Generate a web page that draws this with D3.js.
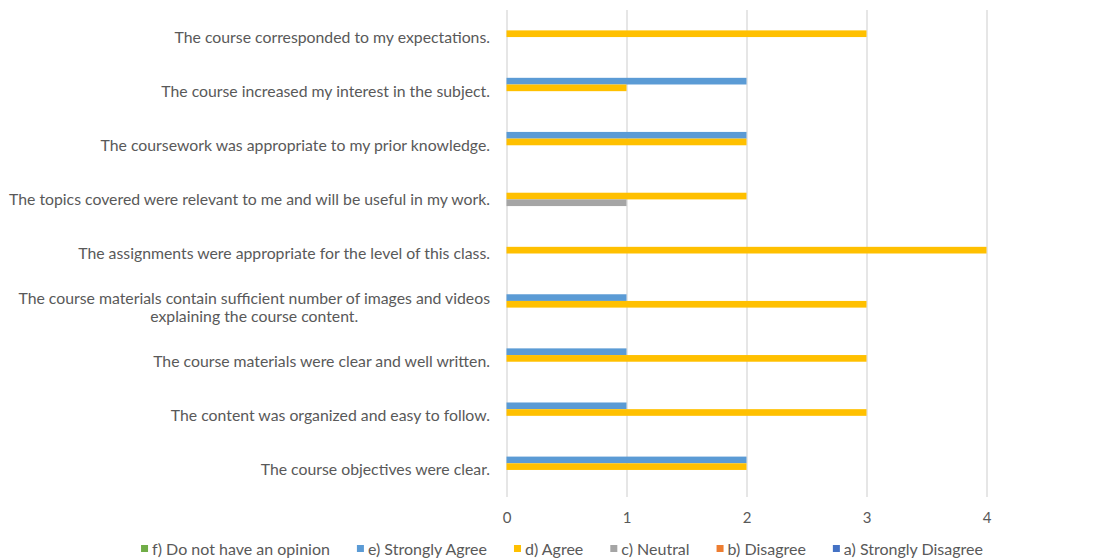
<!DOCTYPE html>
<html>
<head>
<meta charset="utf-8">
<script src="https://cdn.jsdelivr.net/npm/d3@7"></script>
<style>
  body { margin: 0; background: #fff; }
  text { font-family: Lato, 'Noto Sans', sans-serif; }
</style>
</head>
<body>
<svg id="chart" width="1103" height="559"></svg>
<script>
// questions, top to bottom
var questions = [
  "The course corresponded to my expectations.",
  "The course increased my interest in the subject.",
  "The coursework was appropriate to my prior knowledge.",
  "The topics covered were relevant to me and will be useful in my work.",
  "The assignments were appropriate for the level of this class.",
  "The course materials contain sufficient number of images and videos\nexplaining the course content.",
  "The course materials were clear and well written.",
  "The content was organized and easy to follow.",
  "The course objectives were clear."
];

// series in legend order (also top to bottom inside each group)
var seriesNames = ["f) Do not have an opinion", "e) Strongly Agree", "d) Agree", "c) Neutral", "b) Disagree", "a) Strongly Disagree"];
var seriesColors = ["#70AD47", "#5B9BD5", "#FFC000", "#A5A5A5", "#ED7D31", "#4472C4"];

// counts per question, same order as questions
var noOpinion       = [0, 0, 0, 0, 0, 0, 0, 0, 0];
var stronglyAgree   = [0, 2, 2, 0, 0, 1, 1, 1, 2];
var agree           = [3, 1, 2, 2, 4, 3, 3, 3, 2];
var neutral         = [0, 0, 0, 1, 0, 0, 0, 0, 0];
var disagree        = [0, 0, 0, 0, 0, 0, 0, 0, 0];
var stronglyDisagree= [0, 0, 0, 0, 0, 0, 0, 0, 0];

var seriesValues = [noOpinion, stronglyAgree, agree, neutral, disagree, stronglyDisagree];
var xTicks = [0, 1, 2, 3, 4, 5];

var svg = d3.select('#chart');
var plotTop = 10, plotBottom = 497;
var textColor = '#595959';

var x = d3.scaleLinear()
  .domain([0, 5])
  .range([506.5, 1106.5]);

var y = d3.scaleBand()
  .domain(questions)
  .range([plotTop, plotBottom])
  .paddingInner(0.26)
  .paddingOuter(0.13);

var ySeries = d3.scaleBand()
  .domain(seriesNames)
  .range([0, y.bandwidth()]);

var color = d3.scaleOrdinal()
  .domain(seriesNames)
  .range(seriesColors);

//gridlines + tick labels
var xAxis = d3.axisBottom(x)
  .tickValues(xTicks)
  .tickSize(-(plotBottom - plotTop))
  .tickPadding(15)
  .tickFormat(d3.format('d'));

var axisG = svg.append('g')
  .attr('transform', 'translate(0,' + plotBottom + ')')
  .call(xAxis);
axisG.select('.domain').remove();
axisG.selectAll('.tick line')
  .attr('stroke', '#D9D9D9')
  .attr('stroke-width', 1.3);
axisG.selectAll('.tick text')
  .attr('fill', textColor)
  .attr('font-size', 15)
  .style('font-family', 'Lato, sans-serif');

//bars
var rows = [];
questions.forEach(function(q, qi) {
  seriesNames.forEach(function(s, si) {
    rows.push({question: q, series: s, value: seriesValues[si][qi]});
  });
});

svg.append('g').selectAll('rect')
  .data(rows.filter(function(d) { return d.value > 0; }))
  .enter()
  .append('rect')
  .attr('x', x(0))
  .attr('y', function(d) { return y(d.question) + ySeries(d.series); })
  .attr('width', function(d) { return x(d.value) - x(0); })
  .attr('height', ySeries.bandwidth())
  .attr('fill', function(d) { return color(d.series); });

//category labels
var labels = svg.append('g').selectAll('text')
  .data(questions)
  .enter()
  .append('text')
  .attr('text-anchor', 'middle')
  .attr('fill', textColor)
  .attr('font-size', 15.8)
  .each(function(d) {
    var lines = d.split('\n');
    var t = d3.select(this);
    var cy = y(d) + y.bandwidth() / 2;
    var lineH = 18;
    lines.forEach(function(line, i) {
      t.append('tspan')
        .attr('y', cy + 5.5 + (i - (lines.length - 1) / 2) * lineH)
        .text(line);
    });
  });

// right align each block on x=490, centering lines within the block
labels.each(function() {
  var t = d3.select(this);
  var w = 0;
  t.selectAll('tspan').each(function() { w = Math.max(w, this.getComputedTextLength()); });
  t.selectAll('tspan').attr('x', 490 - w / 2);
});

//legend
var legend = svg.append('g');
var legendY = 549;
var cursor = 0;
seriesNames.forEach(function(s) {
  var item = legend.append('g').attr('transform', 'translate(' + cursor + ',0)');
  item.append('rect')
    .attr('x', 0)
    .attr('y', legendY - 4)
    .attr('width', 7)
    .attr('height', 7)
    .attr('fill', color(s));
  var txt = item.append('text')
    .attr('x', 11)
    .attr('y', legendY + 5.5)
    .attr('fill', textColor)
    .attr('font-size', 16)
    .text(s);
  cursor += 11 + txt.node().getComputedTextLength() + 27;
});
var legendW = cursor - 27;
legend.attr('transform', 'translate(' + (562 - legendW / 2) + ',0)');
</script>
</body>
</html>
